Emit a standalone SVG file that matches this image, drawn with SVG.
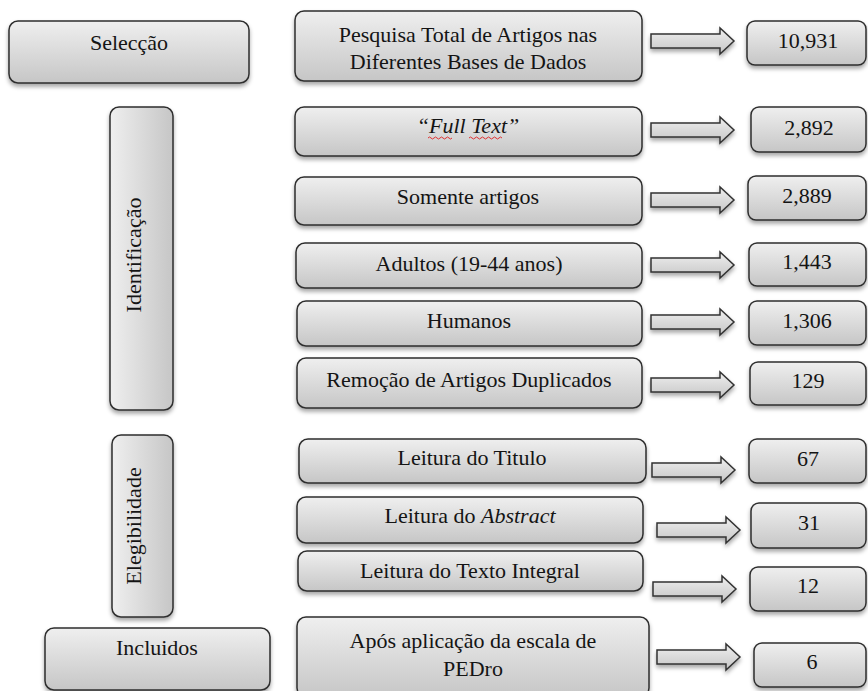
<svg xmlns="http://www.w3.org/2000/svg" xmlns:xlink="http://www.w3.org/1999/xlink" width="868" height="691" viewBox="0 0 868 691">
<defs>
<linearGradient id="gv" x1="0" y1="0" x2="0" y2="1"><stop offset="0" stop-color="#efefef"/><stop offset="1" stop-color="#c6c6c6"/></linearGradient>
<linearGradient id="gh" x1="0" y1="0" x2="1" y2="0"><stop offset="0" stop-color="#efefef"/><stop offset="1" stop-color="#c6c6c6"/></linearGradient>
<filter id="sh" x="-10%" y="-20%" width="120%" height="150%"><feDropShadow dx="0" dy="3" stdDeviation="2" flood-color="#000" flood-opacity="0.35"/></filter>
<path id="arr" d="M0,-7 H69 V-13 L83,0 L69,13 V7 H0 Z"/>
</defs>
<style>
.b{fill:url(#gv);stroke:#2e2e2e;stroke-width:1.5;filter:url(#sh)}
.bv{fill:url(#gh);stroke:#2e2e2e;stroke-width:1.5;filter:url(#sh)}
.a{fill:url(#gv);stroke:#333;stroke-width:1.5;filter:url(#sh)}
text{font-family:Liberation Serif,Tinos,Times New Roman,Noto Serif,FreeSerif,DejaVu Serif,serif;font-size:22px;fill:#141414;text-anchor:middle}
.i{font-style:italic}
</style>
<rect width="868" height="691" fill="#fff"/>
<g id="connectors">
<use xlink:href="#arr" href="#arr" class="a" x="651" y="41"/>
<use xlink:href="#arr" href="#arr" class="a" x="651" y="130"/>
<use xlink:href="#arr" href="#arr" class="a" x="651" y="200"/>
<use xlink:href="#arr" href="#arr" class="a" x="651" y="265"/>
<use xlink:href="#arr" href="#arr" class="a" x="651" y="322"/>
<use xlink:href="#arr" href="#arr" class="a" x="651" y="385"/>
<use xlink:href="#arr" href="#arr" class="a" x="652" y="470"/>
<use xlink:href="#arr" href="#arr" class="a" x="657" y="530"/>
<use xlink:href="#arr" href="#arr" class="a" x="653" y="589"/>
<use xlink:href="#arr" href="#arr" class="a" x="657" y="657"/>
</g>
<g id="selecao"><rect class="b" x="9" y="21" width="240" height="62" rx="9"/><text x="129" y="50">Selecção</text></g>
<g id="identificacao"><rect class="bv" x="110" y="107" width="63" height="303" rx="9"/><text transform="translate(141,255) rotate(-90)">Identificação</text></g>
<g id="elegibilidade"><rect class="bv" x="112" y="435" width="61" height="182" rx="9"/><text transform="translate(141,526) rotate(-90)">Elegibilidade</text></g>
<g id="incluidos"><rect class="b" x="45" y="628" width="225" height="62" rx="9"/><text x="157" y="655">Incluidos</text></g>
<g id="pesquisa"><rect class="b" x="295" y="11" width="347" height="70" rx="9"/><text x="468" y="42">Pesquisa Total de Artigos nas</text><text x="468" y="69">Diferentes Bases de Dados</text></g>
<g id="fulltext"><rect class="b" x="295" y="107" width="347" height="49" rx="9"/><text class="i" x="468" y="133">“Full Text”</text><path d="M428,138 q1.5,-2 3,0 t3,0 t3,0 t3,0 t3,0 t3,0 t3,0 t3,0 M469,138 q1.5,-2 3,0 t3,0 t3,0 t3,0 t3,0 t3,0 t3,0 t3,0 t3,0 t3,0 t3,0" fill="none" stroke="#e03030" stroke-width="1"/></g>
<g id="somente"><rect class="b" x="295" y="177" width="347" height="48" rx="9"/><text x="468" y="204">Somente artigos</text></g>
<g id="adultos"><rect class="b" x="296" y="243" width="346" height="45" rx="9"/><text x="469" y="271">Adultos (19-44 anos)</text></g>
<g id="humanos"><rect class="b" x="297" y="301" width="345" height="45" rx="9"/><text x="469" y="328">Humanos</text></g>
<g id="remocao"><rect class="b" x="297" y="358" width="345" height="50" rx="9"/><text x="469" y="387">Remoção de Artigos Duplicados</text></g>
<g id="titulo"><rect class="b" x="299" y="439" width="347" height="44" rx="9"/><text x="472" y="465">Leitura do Titulo</text></g>
<g id="abstract"><rect class="b" x="297" y="497" width="346" height="46" rx="9"/><text x="470" y="523">Leitura do <tspan class="i">Abstract</tspan></text></g>
<g id="integral"><rect class="b" x="298" y="551" width="345" height="40" rx="9"/><text x="470" y="578">Leitura do Texto Integral</text></g>
<g id="pedro"><rect class="b" x="297" y="617" width="352" height="80" rx="9"/><text x="473" y="648">Após aplicação da escala de</text><text x="473" y="676">PEDro</text></g>
<g id="n10931"><rect class="b" x="747" y="21" width="119" height="44" rx="8"/><text x="808" y="48">10,931</text></g>
<g id="n2892"><rect class="b" x="751" y="107" width="115" height="45" rx="8"/><text x="809" y="135">2,892</text></g>
<g id="n2889"><rect class="b" x="748" y="176" width="118" height="44" rx="8"/><text x="807" y="203">2,889</text></g>
<g id="n1443"><rect class="b" x="749" y="243" width="117" height="43" rx="8"/><text x="807" y="269">1,443</text></g>
<g id="n1306"><rect class="b" x="749" y="301" width="117" height="44" rx="8"/><text x="807" y="328">1,306</text></g>
<g id="n129"><rect class="b" x="750" y="362" width="116" height="43" rx="8"/><text x="808" y="388">129</text></g>
<g id="n67"><rect class="b" x="749" y="439" width="117" height="44" rx="8"/><text x="808" y="466">67</text></g>
<g id="n31"><rect class="b" x="751" y="503" width="115" height="45" rx="8"/><text x="809" y="530">31</text></g>
<g id="n12"><rect class="b" x="750" y="567" width="116" height="44" rx="8"/><text x="808" y="593">12</text></g>
<g id="n6"><rect class="b" x="754" y="643" width="112" height="44" rx="8"/><text x="812" y="669">6</text></g>
</svg>
